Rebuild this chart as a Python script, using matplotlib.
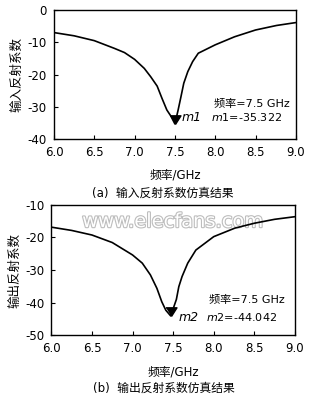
import matplotlib.pyplot as plt
import matplotlib.patheffects as pe

plt.rcParams['font.family'] = ['DejaVu Sans', 'Noto Sans CJK SC']

# input reflection coefficient (S11), dB
freq_in = [6.0, 6.25, 6.5, 6.75, 6.875, 7.0, 7.12, 7.2, 7.28, 7.34, 7.4, 7.45, 7.5,
           7.54, 7.575, 7.61, 7.66, 7.72, 7.79, 8.0, 8.24, 8.5, 8.76, 9.0]
s11 = [-7.0, -8.0, -9.5, -11.9, -13.2, -15.3, -18.1, -20.7, -23.6, -27.4, -31.0, -32.9, -35.322,
       -31.0, -26.9, -22.7, -19.1, -16.0, -13.4, -10.8, -8.3, -6.2, -4.8, -3.9]

# output reflection coefficient (S22), dB
freq_out = [6.0, 6.25, 6.5, 6.75, 7.0, 7.12, 7.22, 7.3, 7.36, 7.41, 7.47,
            7.54, 7.57, 7.61, 7.68, 7.78, 8.0, 8.26, 8.5, 8.75, 9.0]
s22 = [-16.9, -17.9, -19.3, -21.6, -25.4, -27.9, -31.5, -35.6, -39.7, -42.3, -44.042,
       -39.0, -35.1, -32.0, -27.9, -23.9, -19.8, -17.2, -15.7, -14.5, -13.7]

m1_freq, m1_val = 7.5, -35.322
m2_freq, m2_val = 7.47, -44.042

xticks = [6.0, 6.5, 7.0, 7.5, 8.0, 8.5, 9.0]

fig = plt.figure(figsize=(3.23, 4.0), dpi=100)
ax1 = fig.add_axes([0.167, 0.6525, 0.749, 0.3225])
ax2 = fig.add_axes([0.159, 0.1615, 0.754, 0.327])

# downward triangle with its tip on the data point
tri = [(-1.2, 1.9), (1.2, 1.9), (0, 0)]


def style(ax, ylim, yticks, ylabel):
    ax.set_xlim(6.0, 9.0)
    ax.set_ylim(*ylim)
    ax.set_xticks(xticks)
    ax.set_xticklabels(['%.1f' % v for v in xticks], fontsize=8.5)
    ax.set_yticks(yticks)
    ax.set_yticklabels(['%d' % v for v in yticks], fontsize=8.5)
    ax.tick_params(direction='in', length=3, width=0.8, pad=5)
    for s in ax.spines.values():
        s.set_linewidth(1.0)
    ax.set_xlabel('频率/GHz', fontsize=8.5, labelpad=7)
    ax.set_ylabel(ylabel, fontsize=9, labelpad=3)


ax1.plot(freq_in, s11, color='black', lw=1.2)
ax1.plot(m1_freq, m1_val, marker=tri, ms=12.5, color='black')
ax1.text(7.58, -33.3, 'm1', style='italic', fontsize=9, va='center')
ax1.text(7.98, -29.2, '频率=7.5 GHz', fontsize=8, va='center')
ax1.text(7.95, -33.3, '$m$1=-35.322', fontsize=8, va='center')
style(ax1, (-40, 0), [-40, -30, -20, -10, 0], '输入反射系数')

ax2.plot(freq_out, s22, color='black', lw=1.2)
ax2.plot(m2_freq, m2_val, marker=tri, ms=12.5, color='black')
ax2.text(7.57, -44.4, 'm2', style='italic', fontsize=9, va='center')
ax2.text(7.94, -39.1, '频率=7.5 GHz', fontsize=8, va='center')
ax2.text(7.91, -44.4, '$m$2=-44.042', fontsize=8, va='center')
style(ax2, (-50, -10), [-50, -40, -30, -20, -10], '输出反射系数')

wm = ax2.text(0.5, 0.87, 'www.elecfans.com', transform=ax2.transAxes, ha='center',
              va='center', fontsize=14, color='white', zorder=0)
wm.set_path_effects([pe.Stroke(linewidth=1.6, foreground='#bdbdbd'), pe.Normal()])

fig.text(0.503, 0.518, '(a)  输入反射系数仿真结果', ha='center', va='center', fontsize=8.5)
fig.text(0.506, 0.029, '(b)  输出反射系数仿真结果', ha='center', va='center', fontsize=8.5)

fig.savefig('out.png', dpi=100)
